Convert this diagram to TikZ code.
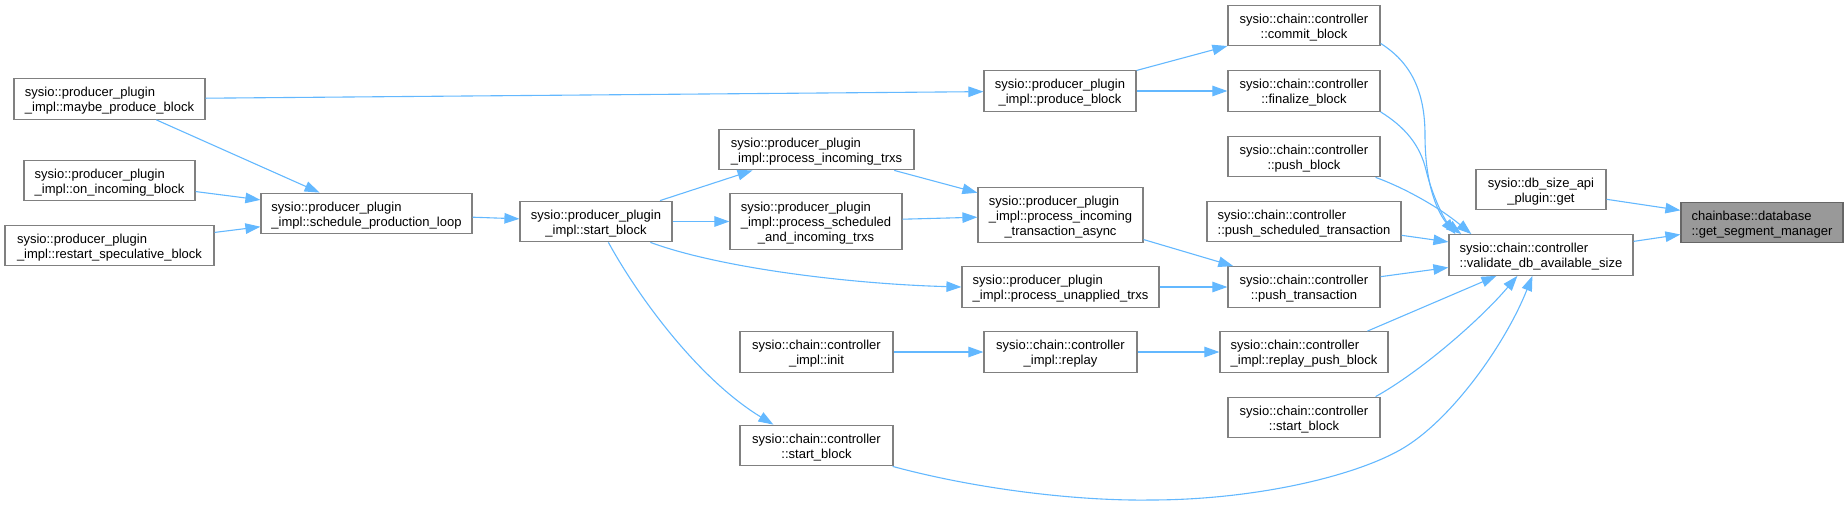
\documentclass[tikz,border=0pt]{standalone}
\usepackage{fontspec}
\setmainfont{Liberation Sans}
\usetikzlibrary{arrows.meta,calc}
\definecolor{edgeblue}{HTML}{63B8FF}
\definecolor{boxborder}{HTML}{808080}
\definecolor{rootfill}{HTML}{999999}
\definecolor{rootborder}{HTML}{666666}
\newcommand\twol[2]{\raisebox{-2.3pt}[\height][\depth]{\begin{tabular}{@{}l@{}}#1\\\multicolumn{1}{@{}c@{}}{#2}\end{tabular}}}
\newcommand\threel[3]{\raisebox{-2.3pt}[\height][\depth]{\begin{tabular}{@{}l@{}}#1\\#2\\\multicolumn{1}{@{}c@{}}{#3}\end{tabular}}}
\begin{document}
\begin{tikzpicture}[x=1pt,y=-1pt,
  fn/.style={draw=boxborder, line width=1.2pt, fill=white, inner sep=0pt,
    minimum height=40.6pt, font=\fontsize{13}{15}\selectfont},
  fnthree/.style={fn, minimum height=55.5pt},
  root/.style={fn, fill=rootfill, draw=rootborder},
  call/.style={draw=edgeblue, line width=1.1pt, -{Triangle[length=15pt,width=10.5pt]}}]
\useasboundingbox (0,0) rectangle (1848,507);

% nodes
\node[fn, minimum width=191pt] (maybe) at (109.5,99) {\twol{sysio::producer\_plugin}{\_impl::maybe\_produce\_block}};
\node[fn, minimum width=171pt] (onin) at (109.5,180.5) {\twol{sysio::producer\_plugin}{\_impl::on\_incoming\_block}};
\node[fn, minimum width=209pt] (restart) at (109.5,245.5) {\twol{sysio::producer\_plugin}{\_impl::restart\_speculative\_block}};
\node[fn, minimum width=211pt] (sched) at (366.5,213.5) {\twol{sysio::producer\_plugin}{\_impl::schedule\_production\_loop}};
\node[fn, minimum width=152pt] (startb) at (596,221.5) {\twol{sysio::producer\_plugin}{\_impl::start\_block}};
\node[fn, minimum width=195pt] (pit) at (816.5,149.5) {\twol{sysio::producer\_plugin}{\_impl::process\_incoming\_trxs}};
\node[fnthree, minimum width=172pt] (psched) at (816,221.5) {\threel{sysio::producer\_plugin}{\_impl::process\_scheduled}{\_and\_incoming\_trxs}};
\node[fnthree, minimum width=165pt] (async) at (1060.5,215) {\threel{sysio::producer\_plugin}{\_impl::process\_incoming}{\_transaction\_async}};
\node[fn, minimum width=197pt] (unapplied) at (1060.5,287) {\twol{sysio::producer\_plugin}{\_impl::process\_unapplied\_trxs}};
\node[fn, minimum width=153pt] (init) at (816.5,352) {\twol{sysio::chain::controller}{\_impl::init}};
\node[fn, minimum width=153pt] (replay) at (1060.5,352) {\twol{sysio::chain::controller}{\_impl::replay}};
\node[fn, minimum width=153pt] (cstartL) at (816.5,445.5) {\twol{sysio::chain::controller}{::start\_block}};
\node[fn, minimum width=152pt] (produce) at (1060,91) {\twol{sysio::producer\_plugin}{\_impl::produce\_block}};
\node[fn, minimum width=152pt] (commit) at (1304,25.5) {\twol{sysio::chain::controller}{::commit\_block}};
\node[fn, minimum width=152pt] (finalize) at (1304,91) {\twol{sysio::chain::controller}{::finalize\_block}};
\node[fn, minimum width=152pt] (pushblk) at (1304,156.5) {\twol{sysio::chain::controller}{::push\_block}};
\node[fn, minimum width=194pt] (pushsched) at (1304,221.5) {\twol{sysio::chain::controller}{::push\_scheduled\_transaction}};
\node[fn, minimum width=152pt] (pushtx) at (1304,287) {\twol{sysio::chain::controller}{::push\_transaction}};
\node[fn, minimum width=168pt] (replaypush) at (1304,352) {\twol{sysio::chain::controller}{\_impl::replay\_push\_block}};
\node[fn, minimum width=152pt] (cstartR) at (1304,417.5) {\twol{sysio::chain::controller}{::start\_block}};
\node[fn, minimum width=184pt] (validate) at (1541,255) {\twol{sysio::chain::controller}{::validate\_db\_available\_size}};
\node[fn, minimum width=130pt] (dbget) at (1541,189.5) {\twol{sysio::db\_size\_api}{\_plugin::get}};
\node[root, minimum width=162pt] (getseg) at (1762,222.5) {\twol{chainbase::database}{::get\_segment\_manager}};

% connectors
\draw[call] (maybe) -- (produce);
\draw[call] (maybe) -- (sched);
\draw[call] (onin) -- (sched);
\draw[call] (restart) -- (sched);
\draw[call] (sched) -- (startb);
\draw[call] (startb) -- (pit);
\draw[call] (startb) -- (psched);
\draw[call] ($(startb.south west)+(131,0)$) .. controls (720,268) and (850,284) .. (unapplied.west);
\draw[call] ($(startb.south west)+(89,0)$) .. controls (640,300) and (700,380) .. ($(cstartL.north west)+(34,0)$);
\draw[call] (pit) -- (async);
\draw[call] (psched) -- (async);
\draw[call] (produce) -- (commit);
\draw[call] (produce) -- (finalize);
\draw[call] (async) -- (pushtx);
\draw[call] (unapplied) -- (pushtx);
\draw[call] (init) -- (replay);
\draw[call] (replay) -- (replaypush);
\draw[call] ($(commit.south east)+(0,-3)$) .. controls (1410,62) and (1425,90) .. (1425,135)
   .. controls (1425,190) and (1440,215) .. ($(validate.north west)+(7,0)$);
\draw[call] (finalize.south east) .. controls (1405,127) and (1420,145) .. (1426,170)
   .. controls (1432,195) and (1445,222) .. ($(validate.north west)+(13,0)$);
\draw[call] ($(pushblk.south east)+(-5,0)$) .. controls (1405,188) and (1440,208) .. ($(validate.north west)+(23,0)$);
\draw[call] (pushsched) -- (validate);
\draw[call] (pushtx) -- (validate);
\draw[call] ($(replaypush.north west)+(148,0)$) -- ($(validate.south west)+(48,0)$);
\draw[call] ($(cstartR.north east)+(-5,0)$) .. controls (1420,372) and (1480,320) .. ($(validate.south west)+(69,0)$);
\draw[call] ($(cstartL.south east)+(-1,0)$) .. controls (980,490) and (1080,501) .. (1150,500)
   .. controls (1250,500) and (1350,478) .. (1400,450)
   .. controls (1450,422) and (1505,345) .. ($(validate.south west)+(84,0)$);
\draw[call] (dbget) -- (getseg);
\draw[call] (validate) -- (getseg);
\end{tikzpicture}
\end{document}
